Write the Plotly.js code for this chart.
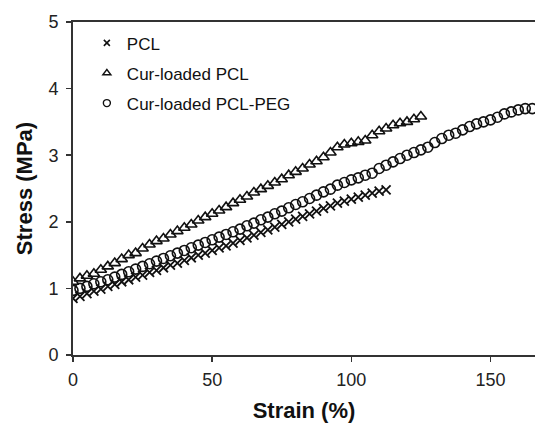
<!DOCTYPE html>
<html><head><meta charset="utf-8">
<script src="https://cdn.plot.ly/plotly-3.0.1.min.js"></script>
<style>html,body{margin:0;padding:0;background:#fff}</style>
</head><body>
<div id="chart" style="width:535px;height:423px"></div>
<script>
const seriesNames = ["PCL", "Cur-loaded PCL", "Cur-loaded PCL-PEG"];

const pclStrain = [0,2.5,5,7.5,10,12.5,15,17.5,20,22.5,25,27.5,30,32.5,35,37.5,40,42.5,45,47.5,50,52.5,55,57.5,60,62.5,65,67.5,70,72.5,75,77.5,80,82.5,85,87.5,90,92.5,95,97.5,100,102.5,105,107.5,110,112.5];
const pclStress = [0.85,0.88,0.92,0.96,0.99,1.03,1.06,1.10,1.13,1.17,1.20,1.24,1.27,1.31,1.35,1.38,1.42,1.46,1.50,1.53,1.57,1.61,1.64,1.68,1.72,1.76,1.80,1.84,1.88,1.92,1.96,2.00,2.04,2.08,2.12,2.16,2.20,2.24,2.28,2.31,2.34,2.37,2.40,2.43,2.46,2.48];

const curStrain = [0,2.5,5,7.5,10,12.5,15,17.5,20,22.5,25,27.5,30,32.5,35,37.5,40,42.5,45,47.5,50,52.5,55,57.5,60,62.5,65,67.5,70,72.5,75,77.5,80,82.5,85,87.5,90,92.5,95,97.5,100,102.5,105,107.5,110,112.5,115,117.5,120,122.5,125];
const curStress = [1.10,1.15,1.19,1.22,1.28,1.33,1.38,1.44,1.50,1.53,1.60,1.66,1.71,1.75,1.81,1.86,1.91,1.96,2.02,2.07,2.12,2.17,2.22,2.28,2.33,2.38,2.44,2.49,2.54,2.59,2.64,2.70,2.75,2.80,2.86,2.91,2.97,3.04,3.12,3.16,3.18,3.20,3.22,3.30,3.36,3.40,3.45,3.48,3.50,3.54,3.58];

const pegStrain = [0,2.5,5,7.5,10,12.5,15,17.5,20,22.5,25,27.5,30,32.5,35,37.5,40,42.5,45,47.5,50,52.5,55,57.5,60,62.5,65,67.5,70,72.5,75,77.5,80,82.5,85,87.5,90,92.5,95,97.5,100,102.5,105,107.5,110,112.5,115,117.5,120,122.5,125,127.5,130,132.5,135,137.5,140,142.5,145,147.5,150,152.5,155,157.5,160,162.5,165];
const pegStress = [0.97,1.00,1.03,1.07,1.10,1.13,1.17,1.21,1.25,1.29,1.33,1.37,1.41,1.45,1.49,1.53,1.57,1.61,1.65,1.69,1.73,1.77,1.81,1.85,1.89,1.94,1.98,2.03,2.07,2.12,2.16,2.21,2.26,2.30,2.35,2.40,2.45,2.49,2.55,2.59,2.63,2.66,2.70,2.73,2.80,2.85,2.90,2.95,3.00,3.04,3.08,3.12,3.19,3.25,3.30,3.33,3.38,3.43,3.47,3.50,3.53,3.57,3.62,3.65,3.68,3.70,3.70];

const xTicks = [0, 50, 100, 150];
const yTicks = [0, 1, 2, 3, 4, 5];

const font = "Liberation Sans, Arial, sans-serif";
const ink = "#111";
const markerStyles = [
  {symbol: "x-thin", size: 9, color: ink, line: {color: ink, width: 1.8}},
  {symbol: "triangle-up-open", size: 10, color: ink, line: {color: ink, width: 1.6}},
  {symbol: "circle-open", size: 10, color: ink, line: {color: ink, width: 1.6}}
];
const legendMarkers = [
  {symbol: "x-thin", size: 6, color: ink, line: {color: ink, width: 1.6}},
  {symbol: "triangle-up-open", size: 7, color: ink, line: {color: ink, width: 1.4}},
  {symbol: "circle-open", size: 7, color: ink, line: {color: ink, width: 1.4}}
];
const xs = [pclStrain, curStrain, pegStrain];
const ys = [pclStress, curStress, pegStress];
const traces = [];
for (let i = 0; i < 3; i++) {
  traces.push({x: xs[i], y: ys[i], name: seriesNames[i], showlegend: false, mode: "markers", type: "scatter",
               marker: markerStyles[i]});
}
for (let i = 0; i < 3; i++) {
  traces.push({x: [null], y: [null], name: seriesNames[i], legendgroup: "g" + i, mode: "markers", type: "scatter",
               marker: legendMarkers[i]});
}

const layout = {
  width: 535, height: 423,
  margin: {l: 73, r: 0, t: 22, b: 68},
  paper_bgcolor: "#fff", plot_bgcolor: "#fff",
  font: {family: font, color: ink, size: 16},
  showlegend: true,
  legend: {x: 0.03, y: 0.99, xanchor: "left", yanchor: "top", bgcolor: "rgba(0,0,0,0)",
           font: {size: 17, family: font, color: ink}, traceorder: "grouped", tracegroupgap: 5,
           itemwidth: 30},
  xaxis: {range: [0, 166], tickvals: xTicks, ticks: "outside", ticklen: 5, tickwidth: 1.5, tickcolor: "#333",
          showline: true, linecolor: "#333", linewidth: 2, mirror: true, showgrid: false, zeroline: false,
          tickfont: {size: 18, family: font, color: "#222"}, automargin: false, ticklabelstandoff: 2,
          title: {text: "<b>Strain (%)</b>", font: {size: 22, family: font, color: ink}, standoff: 14}},
  yaxis: {range: [0, 5], tickvals: yTicks, ticks: "outside", ticklen: 5, tickwidth: 1.5, tickcolor: "#333",
          showline: true, linecolor: "#333", linewidth: 2, showgrid: false, zeroline: false,
          tickfont: {size: 18, family: font, color: "#222"}, automargin: false, ticklabelstandoff: 4,
          title: {text: "<b>Stress (MPa)</b>", font: {size: 22, family: font, color: ink}, standoff: 10}}
};
Plotly.newPlot("chart", traces, layout, {displayModeBar: false, staticPlot: true});
</script>
</body></html>
